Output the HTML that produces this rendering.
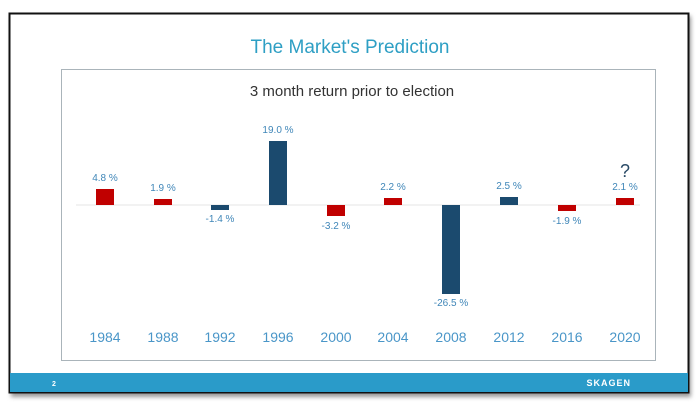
<!DOCTYPE html>
<html><head><style>
body{margin:0;width:700px;height:402px;background:#fff;overflow:hidden;font-family:"Liberation Sans",sans-serif}
</style></head><body>
<svg width="700" height="402" xmlns="http://www.w3.org/2000/svg" font-family="Liberation Sans, sans-serif">
<defs><filter id="s" x="-5%" y="-5%" width="110%" height="110%"><feGaussianBlur stdDeviation="2"/></filter></defs>
<rect x="11" y="16" width="680" height="381" fill="#999" filter="url(#s)"/>
<rect x="9.5" y="13.5" width="679" height="379" fill="#fff" stroke="#111" stroke-width="2"/>
<rect x="10" y="373" width="678" height="19" fill="#2a9bc9"/>
<text x="52" y="386" font-size="7" fill="#fff" font-weight="bold">2</text>
<text x="631" y="386" font-size="9" fill="#fff" font-weight="bold" text-anchor="end" letter-spacing="1">SKAGEN</text>
<text x="350" y="53" font-size="19" fill="#2e9fc4" text-anchor="middle">The Market's Prediction</text>
<rect x="61.5" y="69.5" width="594" height="291" fill="#fff" stroke="#aab4ba"/>
<text x="352" y="96" font-size="15" fill="#333" text-anchor="middle">3 month return prior to election</text>
<line x1="76" y1="205" x2="640" y2="205" stroke="#e4e4e4"/>
<g font-size="10" fill="#3f86b8" text-anchor="middle">
<rect x="96" y="189" width="18" height="16" fill="#c00000"/><text x="105" y="181">4.8 %</text>
<rect x="154" y="199" width="18" height="6" fill="#c00000"/><text x="163" y="191">1.9 %</text>
<rect x="211" y="205" width="18" height="5" fill="#1b4a6e"/><text x="220" y="222">-1.4 %</text>
<rect x="269" y="141" width="18" height="64" fill="#1b4a6e"/><text x="278" y="133">19.0 %</text>
<rect x="327" y="205" width="18" height="11" fill="#c00000"/><text x="336" y="229">-3.2 %</text>
<rect x="384" y="198" width="18" height="7" fill="#c00000"/><text x="393" y="190">2.2 %</text>
<rect x="442" y="205" width="18" height="89" fill="#1b4a6e"/><text x="451" y="306">-26.5 %</text>
<rect x="500" y="197" width="18" height="8" fill="#1b4a6e"/><text x="509" y="189">2.5 %</text>
<rect x="558" y="205" width="18" height="6" fill="#c00000"/><text x="567" y="224">-1.9 %</text>
<rect x="616" y="198" width="18" height="7" fill="#c00000"/><text x="625" y="190">2.1 %</text>
<text x="625" y="177" font-size="18" fill="#2a4a66">?</text>
</g>
<g font-size="14" fill="#4a96c8" text-anchor="middle">
<text x="105" y="342">1984</text><text x="163" y="342">1988</text><text x="220" y="342">1992</text><text x="278" y="342">1996</text><text x="336" y="342">2000</text><text x="393" y="342">2004</text><text x="451" y="342">2008</text><text x="509" y="342">2012</text><text x="567" y="342">2016</text><text x="625" y="342">2020</text>
</g>
</svg>
</body></html>
